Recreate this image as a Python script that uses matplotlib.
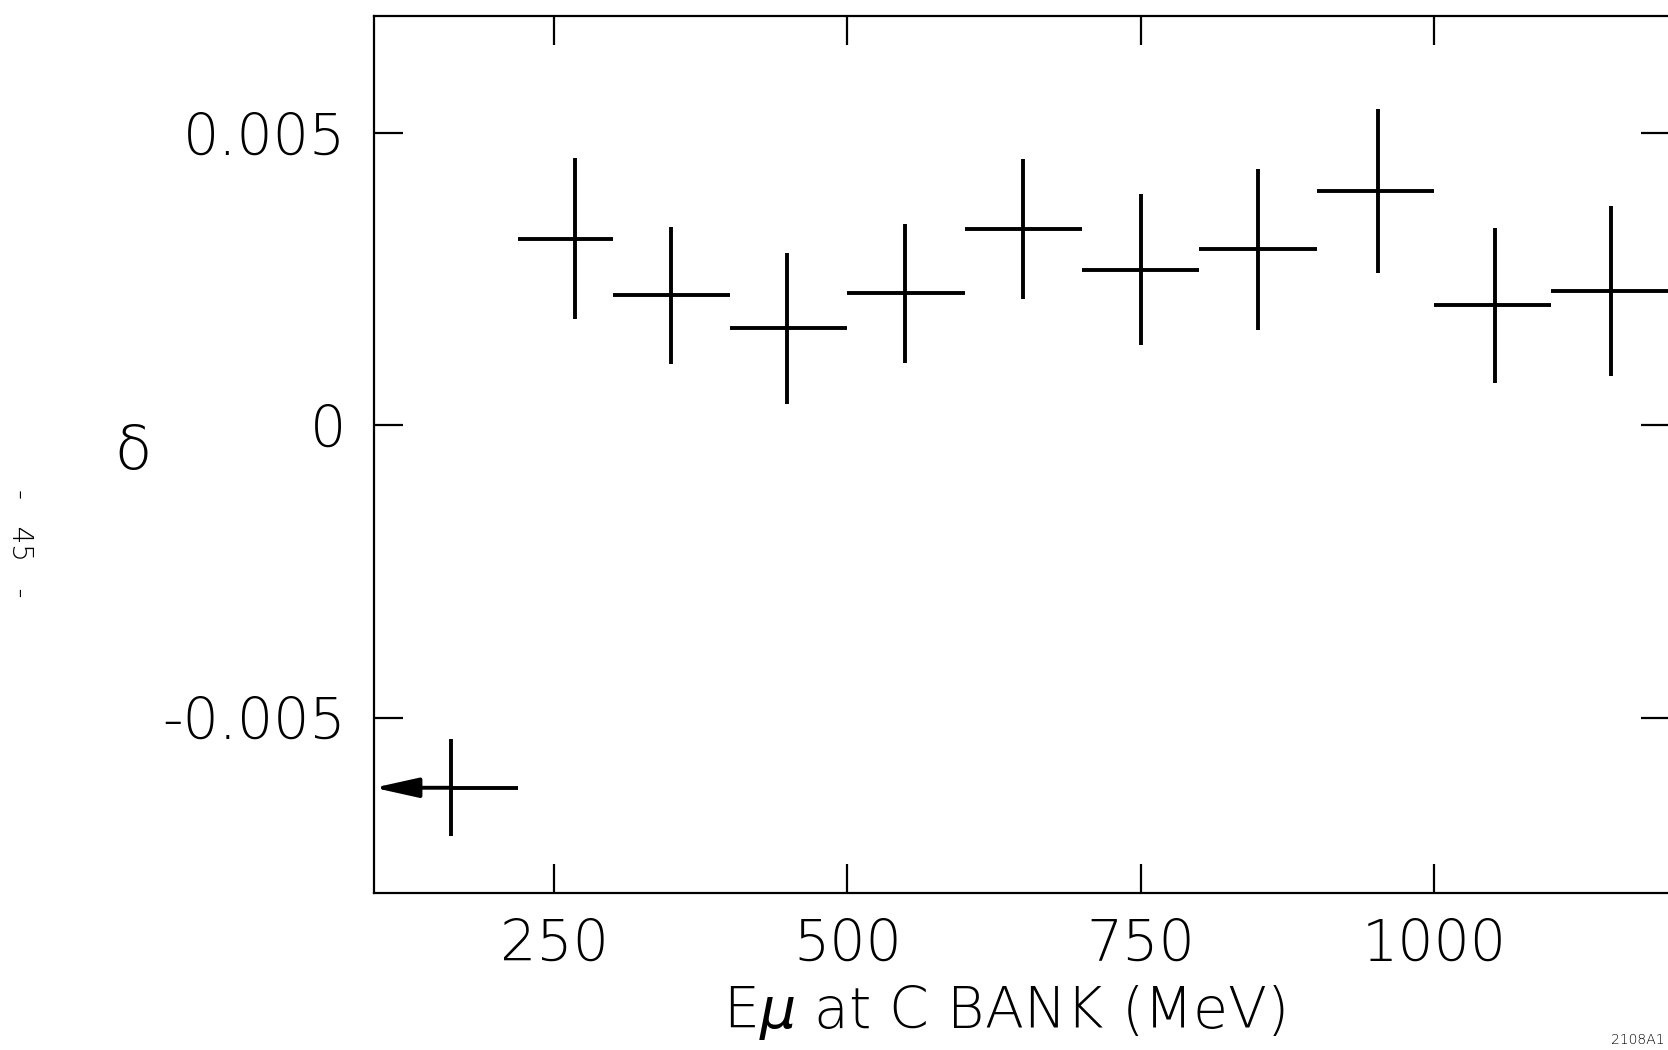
import numpy as np
import matplotlib
matplotlib.use("Agg")
import matplotlib.pyplot as plt

plt.rcParams['font.family'] = ['DejaVu Sans']
plt.rcParams['font.weight'] = 'light'
plt.rcParams['mathtext.fontset'] = 'dejavusans'

# muon energy bins (MeV) and measured delta with errors
e_center = [162, 268, 350, 449, 549, 650, 750, 850, 952, 1052, 1151]
e_low = [97, 219, 300, 400, 500, 600, 700, 800, 900, 1000, 1100]
e_high = [219, 300, 400, 500, 600, 700, 800, 900, 1000, 1100, 1200]
delta = [-0.00620, 0.00319, 0.00222, 0.00166, 0.00226, 0.00336,
         0.00266, 0.00301, 0.00401, 0.00205, 0.00230]
delta_err = [0.00083, 0.00138, 0.00117, 0.00129, 0.00119, 0.00120,
             0.00129, 0.00138, 0.00140, 0.00133, 0.00145]

xticks = [250, 500, 750, 1000]
yticks = [-0.005, 0, 0.005]
ytick_labels = ['-0.005', '0', '0.005']

xmin, xmax = 96.6, 1201.1
ymin, ymax = -0.008, 0.007

fig = plt.figure(figsize=(16.68, 10.5), dpi=100)
ax = fig.add_axes([374/1668, 1 - 893/1050, 1296/1668, 877/1050])

x = np.array(e_center)
lo = x - np.array(e_low)
hi = np.array(e_high) - x
# first bin runs off the left edge, drawn with an arrow instead
lo[0] = 0

ax.errorbar(x, delta, xerr=[lo, hi], yerr=delta_err, fmt='none',
            ecolor='black', elinewidth=2.8, capsize=0)
ax.annotate('', xy=(xmin, delta[0]), xytext=(e_center[0], delta[0]),
            arrowprops=dict(arrowstyle='-|>,head_length=1.35,head_width=0.3',
                            mutation_scale=20, color='black', lw=2.8,
                            shrinkA=0, shrinkB=0))

ax.set_xlim(xmin, xmax)
ax.set_ylim(ymin, ymax)
ax.set_xticks(xticks)
ax.set_xticklabels([str(t) for t in xticks])
ax.set_yticks(yticks)
ax.set_yticklabels(ytick_labels)

ax.tick_params(axis='both', which='major', direction='in', length=21,
               width=1.6, labelsize=41, top=True, right=True)
ax.tick_params(axis='x', pad=18)
ax.tick_params(axis='y', pad=20)
for s in ax.spines.values():
    s.set_linewidth(1.6)

fig.text(1004/1668, 1 - 1012/1050, r'E$\mu$ at C BANK (MeV)',
         ha='center', va='center', fontsize=41)
fig.text(133/1668, 1 - 452/1050, '\u03b4', ha='center', va='center',
         fontsize=44)
fig.text(20/1668, 1 - 543/1050, '-   45   -', ha='center', va='center',
         rotation=-90, fontsize=20)
fig.text(1664/1668, 0.003, '2108A1', ha='right', va='bottom',
         fontsize=10)

fig.savefig('out.png', dpi=100)
